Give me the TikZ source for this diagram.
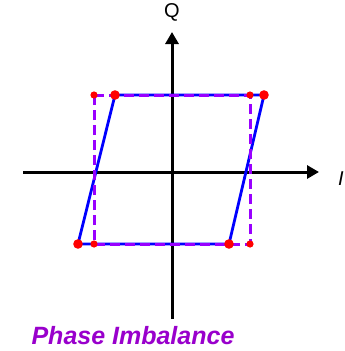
\documentclass[tikz,border=0pt]{standalone}
\usepackage{fontspec}
\setmainfont{Liberation Sans}
\usetikzlibrary{arrows.meta}
\definecolor{idealpurple}{RGB}{153, 0, 255}
\definecolor{titlepurple}{RGB}{153, 0, 204}

\begin{document}
\begin{tikzpicture}[
  x=1pt, y=-1pt,
  axis/.style={line width=3pt, -{Triangle[length=12pt, width=13pt]}},
  skewed/.style={draw=blue, line width=2.8pt, line join=round},
  ideal/.style={draw=idealpurple, line width=3pt, dash pattern=on 10pt off 5pt},
  axislabel/.style={font=\fontsize{20}{20}\selectfont},
  title/.style={font=\fontsize{25}{25}\selectfont\bfseries\itshape, text=titlepurple}
]
  \useasboundingbox (0,0) rectangle (345,351);

  % axes
  \coordinate (xl) at (23,172);
  \coordinate (xr) at (319,172);
  \coordinate (yb) at (172,319);
  \coordinate (yt) at (172,32);
  \draw[axis] (xl) -- (xr);
  \draw[axis] (yb) -- (yt);
  \node[axislabel] (q) at (172,12) {Q};
  \node[axislabel, font=\fontsize{20}{20}\selectfont\itshape] (i) at (341,179) {I};

  % corners of the skewed (blue) and ideal (purple) boxes
  \coordinate (s1) at (115,95);
  \coordinate (s2) at (264,95);
  \coordinate (s3) at (229,244);
  \coordinate (s4) at (78,244);
  \coordinate (r1) at (94,95);
  \coordinate (r2) at (250,95);
  \coordinate (r3) at (250,244);
  \coordinate (r4) at (94,244);

  \draw[skewed] (s1) -- (s2) -- (s3) -- (s4) -- cycle;
  \draw[ideal] (r1) -- (r2) -- (r3) -- (r4) -- cycle;

  \foreach \c in {r1, r2, r3, r4}
    \fill[red] (\c) circle (3.6pt);
  \foreach \c in {s1, s2, s3, s4}
    \fill[red] (\c) circle (4.8pt);

  \node[title] (name) at (133,336) {Phase Imbalance};
\end{tikzpicture}
\end{document}
